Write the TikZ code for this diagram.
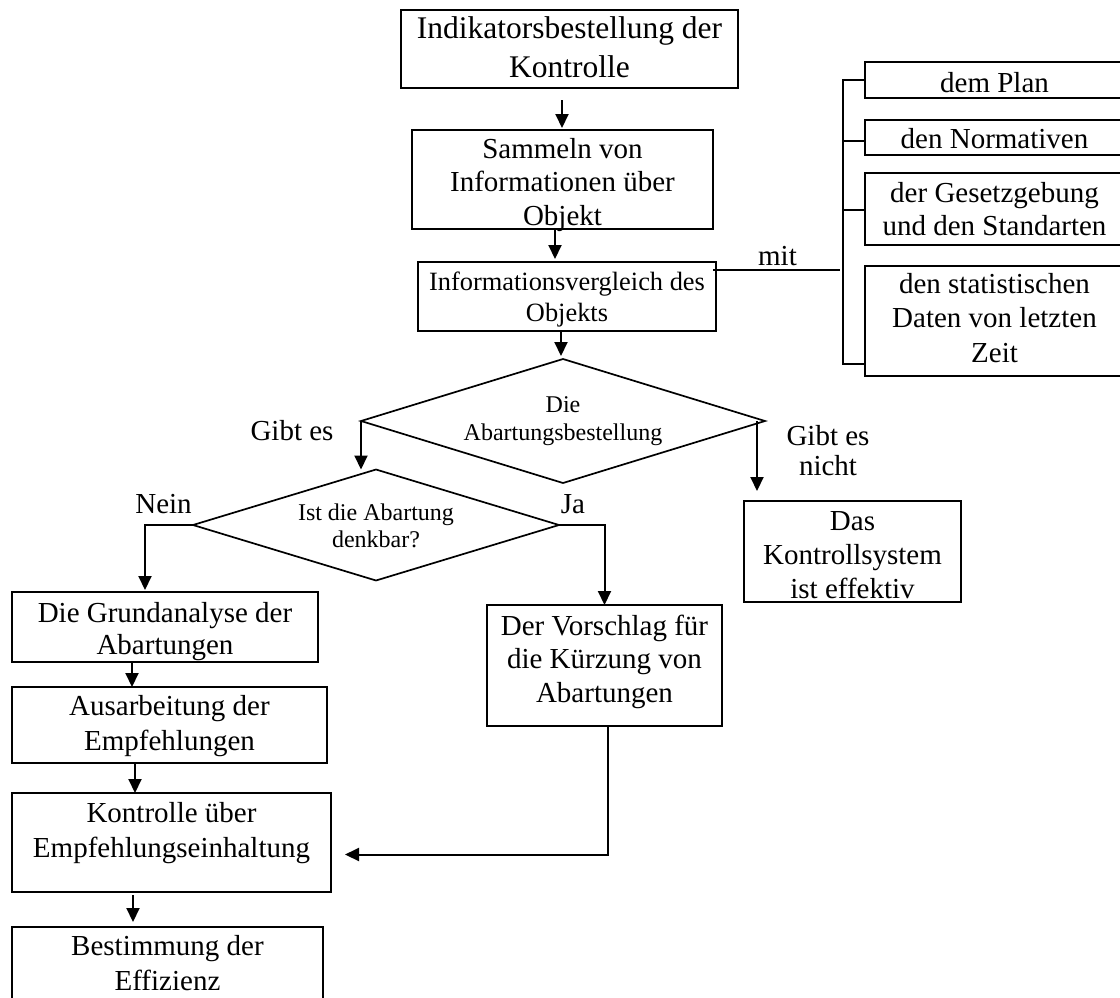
\documentclass[tikz,border=0pt]{standalone}
\usepackage{fontspec}
\setmainfont{Liberation Serif}
\usetikzlibrary{shapes.geometric,arrows.meta,calc}
\newcommand{\tx}[2]{\makebox[0pt]{\raisebox{#1pt}[0pt][0pt]{\begin{tabular}[t]{@{}c@{}}#2\end{tabular}}}}
\newcommand{\fs}[2]{\fontsize{#1pt}{#2pt}\selectfont}
\begin{document}
\begin{tikzpicture}[x=1pt,y=-1pt,
  box/.style={draw, line width=1.7pt, rectangle, inner sep=0pt, outer sep=0pt},
  dia/.style={draw, line width=1.7pt, diamond, inner sep=0pt, outer sep=0pt},
  lbl/.style={inner sep=0pt, outer sep=0pt},
  arr/.style={line width=2pt, -{Triangle[length=14pt,width=13pt]}},
  ln/.style={line width=2pt}]
\useasboundingbox (0,0) rectangle (1120,997);
\clip (0,0) rectangle (1120,997);

% main column
\node[box, minimum width=337pt, minimum height=78pt, font={\fs{31.5}{39}}] (B1) at (569.5,49)
  {\tx{11}{Indikatorsbestellung der\\Kontrolle}};
\node[box, minimum width=301pt, minimum height=99pt, font={\fs{29}{33.5}}] (B2) at (562.5,179.5)
  {\tx{21.5}{Sammeln von\\Informationen über\\Objekt}};
\node[box, minimum width=298pt, minimum height=69pt, font={\fs{26.4}{31}}] (B3) at (567,296.5)
  {\tx{6.5}{Informationsvergleich des\\Objekts}};

% right column
\node[box, minimum width=259pt, minimum height=36pt, font={\fs{29}{33}}] (R1) at (994.5,80)
  {\tx{-12}{dem Plan}};
\node[box, minimum width=259pt, minimum height=35pt, font={\fs{29}{33}}] (R2) at (994.5,137.5)
  {\tx{-10.5}{den Normativen}};
\node[box, minimum width=259pt, minimum height=72pt, font={\fs{29}{33}}] (R3) at (994.5,209)
  {\tx{7}{der Gesetzgebung\\und den Standarten}};
\node[box, minimum width=259pt, minimum height=110pt, font={\fs{29}{34.5}}] (R4) at (994.5,321)
  {\tx{28}{den statistischen\\Daten von letzten\\Zeit}};

% decisions
\node[dia, minimum width=404pt, minimum height=124pt, font={\fs{24}{28}}] (D1) at (563,421)
  {\tx{9}{Die\\Abartungsbestellung}};
\node[dia, minimum width=366pt, minimum height=111pt, font={\fs{24}{27}}] (D2) at (376,525)
  {\tx{5}{Ist die Abartung\\denkbar?}};

% outcome boxes
\node[box, minimum width=217pt, minimum height=101pt, font={\fs{29}{34}}] (K) at (852.5,551.5)
  {\tx{21.5}{Das\\Kontrollsystem\\ist effektiv}};
\node[box, minimum width=235pt, minimum height=121pt, font={\fs{29}{33.5}}] (V) at (604.5,665.5)
  {\tx{30.5}{Der Vorschlag für\\die Kürzung von\\Abartungen}};

% left column
\node[box, minimum width=306pt, minimum height=70pt, font={\fs{29}{32}}] (A) at (165,627)
  {\tx{5}{Die Grundanalyse der\\Abartungen}};
\node[box, minimum width=315pt, minimum height=76pt, font={\fs{29}{35}}] (B) at (169.5,725)
  {\tx{10}{Ausarbeitung der\\Empfehlungen}};
\node[box, minimum width=319pt, minimum height=99pt, font={\fs{29}{35}}] (C) at (171.5,842.5)
  {\tx{20.5}{Kontrolle über\\Empfehlungseinhaltung}};
\node[box, minimum width=311pt, minimum height=78pt, font={\fs{29}{35}}] (D) at (167.5,966)
  {\tx{11}{Bestimmung der\\Effizienz}};

% labels
\node[lbl, font={\fs{29}{34}}] (mit) at (777.5,265) {\tx{0}{mit}};
\node[lbl, font={\fs{29}{34}}] (gl) at (292,440) {\tx{0}{Gibt es}};
\node[lbl, font={\fs{29}{30}}] (gr) at (828,445) {\tx{0}{Gibt es\\nicht}};
\node[lbl, font={\fs{29}{34}}] (nein) at (163.5,513) {\tx{0}{Nein}};
\node[lbl, font={\fs{29}{34}}] (ja) at (573,513) {\tx{0}{Ja}};

% connectors
\draw[arr, shorten <=12pt, shorten >=2pt] ([xshift=-7.5pt]B1.south) -- ([xshift=-7.5pt]B1.south |- B2.north);
\draw[arr, shorten >=3pt] ([xshift=-7.5pt]B2.south) -- ([xshift=-7.5pt]B2.south |- B3.north);
\draw[arr, shorten >=3pt] ([xshift=-6pt]B3.south) -- ([xshift=-6pt]B3.south |- D1.north);
\draw[arr] (D1.west) -- (D1.west |- D2.north);
\draw[arr, shorten >=10pt] ([xshift=-8pt]D1.east) -- ([xshift=-8pt]D1.east |- K.north);
\draw[arr, shorten >=2pt] (D2.west) -| ([xshift=-20pt]A.north);
\draw[arr] (D2.east) -| (V.north);
\draw[arr] ([xshift=-33pt]A.south) -- ([xshift=-33pt]A.south |- B.north);
\draw[arr] ([xshift=-34.5pt]B.south) -- ([xshift=-34.5pt]B.south |- C.north);
\draw[arr, shorten <=3pt, shorten >=5pt] ([xshift=-38.5pt]C.south) -- ([xshift=-38.5pt]C.south |- D.north);
\draw[arr, shorten >=14pt] ([xshift=3.5pt]V.south) |- ([yshift=-12pt]C.east);

% bracket
\coordinate (bt) at ([xshift=-22pt]R1.west);
\coordinate (bb) at ([xshift=-22pt,yshift=-43pt]R4.west);
\draw[ln] (R1.west) -- (bt) -- (bb) -- ([yshift=-43pt]R4.west);
\draw[ln] ([yshift=-3.5pt]R2.west) -- ++(-22,0);
\draw[ln] ([yshift=-1pt]R3.west) -- ++(-22,0);
\draw[ln] ([xshift=-3pt,yshift=26.5pt]B3.east) -- ([xshift=-3pt,yshift=26.5pt]B3.east -| bt);
\end{tikzpicture}
\end{document}
